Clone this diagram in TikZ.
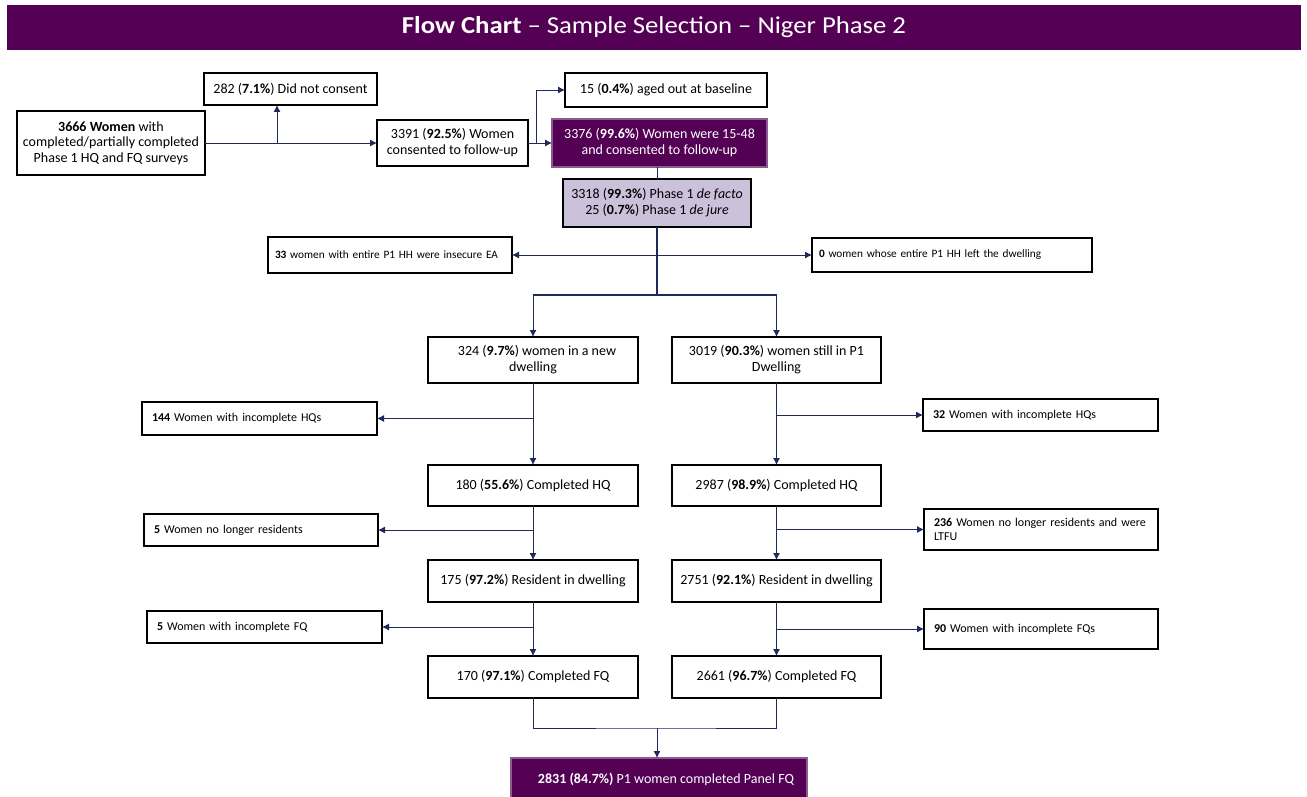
\documentclass[tikz,border=0pt]{standalone}
\usepackage{fontspec}
\setmainfont{Carlito}
\usetikzlibrary{arrows.meta}
\definecolor{hdr}{RGB}{84,0,84}
\definecolor{hdrline}{RGB}{140,90,140}
\definecolor{lav}{RGB}{204,193,218}
\definecolor{navy}{RGB}{31,42,90}
\begin{document}
\begin{tikzpicture}[x=1pt,y=-1pt,
  wh/.style 2 args={minimum width=#1,minimum height=#2},
  box/.style={draw=black,line width=1.4pt,fill=white,inner sep=0pt,outer sep=0pt,anchor=north west,align=center,font=\fontsize{14}{16}\selectfont},
  purplebox/.style={box,draw=hdrline,fill=hdr,text=white},
  side/.style={box,align=left,inner xsep=10pt,font=\fontsize{12}{14}\selectfont},
  smallside/.style={side,inner xsep=7pt,font=\fontsize{11.3}{13.5}\selectfont},
  conn/.style={draw=navy,line width=0.9pt},
  arr/.style={conn,-{Latex[length=7pt,width=7pt]}},
  darr/.style={conn,{Latex[length=7pt,width=7pt]}-{Latex[length=7pt,width=7pt]}}
]
\useasboundingbox (0,0) rectangle (1307,797);
% header
\node[fill=hdr,inner sep=0pt,outer sep=0pt,anchor=north west,wh={1294}{45},text=white,font=\fontsize{24.3}{27}\selectfont\addfontfeature{FakeStretch=1.1}] (title) at (7,5) {\textbf{Flow Chart} -- Sample Selection -- Niger Phase 2};

% top row
\node[box,wh={188}{64},font=\fontsize{14}{15.5}\selectfont] (t0) at (17,111) {\textbf{3666 Women} with\\completed/partially completed\\Phase 1 HQ and FQ surveys};
\node[box,wh={173}{32}] (n282) at (204,73) {282 (\textbf{7.1\%}) Did not consent};
\node[box,wh={151}{46}] (n3391) at (377,120) {3391 (\textbf{92.5\%}) Women\\consented to follow-up};
\node[box,wh={202}{34}] (n15) at (565,73) {15 (\textbf{0.4\%}) aged out at baseline};
\node[purplebox,wh={215}{48}] (n3376) at (552,119) {3376 (\textbf{99.6\%}) Women were 15-48\\and consented to follow-up};
\node[box,fill=lav,wh={188}{48}] (n3318) at (563,179) {3318 (\textbf{99.3\%}) Phase 1 \textit{de facto}\\25 (\textbf{0.7\%}) Phase 1 \textit{de jure}};

\node[smallside,wh={244}{36},text width=230pt] (n33) at (268,237) {\textbf{33} women with entire P1 HH were insecure EA};
\node[smallside,wh={280}{34},text width=266pt] (n0) at (812,238) {\textbf{0} women whose entire P1 HH left the dwelling};

% columns
\node[box,wh={210}{46}] (L1) at (428,337) {\hspace*{8pt}324 (\textbf{9.7\%}) women in a new\\dwelling};
\node[box,wh={209}{46}] (R1) at (672,337) {3019 (\textbf{90.3\%}) women still in P1\\Dwelling};
\node[box,wh={210}{41}] (L2) at (428,465) {180 (\textbf{55.6\%}) Completed HQ};
\node[box,wh={209}{41}] (R2) at (672,465) {2987 (\textbf{98.9\%}) Completed HQ};
\node[box,wh={210}{42}] (L3) at (428,560) {175 (\textbf{97.2\%}) Resident in dwelling};
\node[box,wh={209}{42}] (R3) at (672,560) {2751 (\textbf{92.1\%}) Resident in dwelling};
\node[box,wh={210}{42}] (L4) at (428,656) {170 (\textbf{97.1\%}) Completed FQ};
\node[box,wh={209}{42}] (R4) at (672,656) {2661 (\textbf{96.7\%}) Completed FQ};

% side boxes
\node[side,wh={235}{33},text width=215pt] (s144) at (142,402) {\textbf{144} Women with incomplete HQs};
\node[side,wh={235}{32},text width=215pt] (s32) at (923,399) {\textbf{32} Women with incomplete HQs};
\node[side,wh={234}{32},text width=214pt] (s5a) at (144,514) {\textbf{5} Women no longer residents};
\node[side,wh={234}{41},text width=214pt] (s236) at (924,509) {\textbf{236} Women no longer residents and were\\LTFU};
\node[side,wh={235}{32},text width=215pt] (s5b) at (147,611) {\textbf{5} Women with incomplete FQ};
\node[side,wh={234}{40},text width=214pt] (s90) at (924,609) {\textbf{90} Women with incomplete FQs};

% final
\node[purplebox,wh={296}{42}] (fin) at (511,758) {\hspace*{14pt}\textbf{2831 (84.7\%)} P1 women completed Panel FQ};

% connectors top
\coordinate (j1) at (277,143);
\coordinate (j2) at (536,143);
\draw[arr] (t0.east) -- (t0.east -| n3391.west);
\draw[arr] (j1) -- (j1 |- n282.south);
\draw[conn] (n3391.east) -- (j2);
\draw[arr] (j2) |- (n15.west);
\draw[arr] (j2) -- (j2 -| n3376.west);
\draw[conn] (n3318.north) -- (n3318.north |- n3376.south);

% split
\coordinate (sp) at (657,295);
\draw[conn,line width=1.6pt] (n3318.south) -- (sp);
\draw[darr] (n33.east) -- (n0.west);
\coordinate (spL) at (L1.north |- sp);
\coordinate (spR) at (R1.north |- sp);
\draw[conn,line width=1.6pt] (spL) -- (spR);
\draw[arr] (spL) -- (L1.north);
\draw[arr] (spR) -- (R1.north);

% left column
\draw[arr] (L1.south) -- (L2.north);
\draw[arr] (L1.south |- s144.east) -- (s144.east);
\draw[arr] (L2.south) -- (L3.north);
\draw[arr] (L2.south |- s5a.east) -- (s5a.east);
\draw[arr] (L3.south) -- (L4.north);
\draw[arr] (L3.south |- s5b.east) -- (s5b.east);

% right column
\draw[arr] (R1.south) -- (R2.north);
\draw[arr] (R1.south |- s32.west) -- (s32.west);
\draw[arr] (R2.south) -- (R3.north);
\draw[arr] (R2.south |- s236.west) -- (s236.west);
\draw[arr] (R3.south) -- (R4.north);
\draw[arr] (R3.south |- s90.west) -- (s90.west);

% bottom merge
\coordinate (bj) at (657,728);
\draw[conn] (L4.south) |- (bj) -| (R4.south);
\draw[arr] (bj) -- (bj |- fin.north);
\end{tikzpicture}
\end{document}
